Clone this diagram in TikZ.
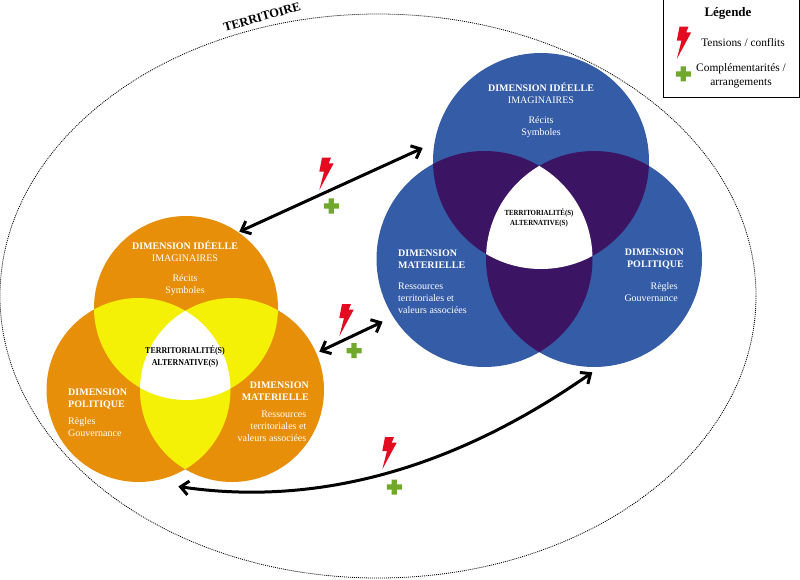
\documentclass[tikz,border=0pt]{standalone}
\usepackage{fontspec}
\setmainfont{Liberation Serif}
\usetikzlibrary{arrows.meta}
\definecolor{orangefill}{HTML}{E78F08}
\definecolor{yellowfill}{HTML}{F4F006}
\definecolor{bluefill}{HTML}{355CA6}
\definecolor{purplefill}{HTML}{3C1464}
\definecolor{boltred}{HTML}{E30B20}
\definecolor{plusgreen}{HTML}{6FA82A}
\tikzset{
  x=1pt,y=-1pt,
  vtext/.style={inner sep=0pt,text=white,font=\fontsize{10}{12}\selectfont},
  vtextc/.style={vtext,align=center},
  vtextl/.style={vtext,align=left},
  vtextr/.style={vtext,align=right},
  linkarrow/.style={line width=3pt,black,{Straight Barb[length=8pt,width=14pt,line width=3pt]}-{Straight Barb[length=8pt,width=14pt,line width=3pt]}},
  boltshape/.pic={\fill[boltred] (0,0)--(9,0)--(6.7,5.7)--(11.7,5.7)--(-2.7,32.3)--(2,14)--(-2.7,14)--cycle;},
  plusshape/.pic={\fill[plusgreen] (-2.6,-7.5)--(2.6,-7.5)--(2.6,-2.6)--(7.5,-2.6)--(7.5,2.6)--(2.6,2.6)--(2.6,7.5)--(-2.6,7.5)--(-2.6,2.6)--(-7.5,2.6)--(-7.5,-2.6)--(-2.6,-2.6)--cycle;},
  territory/.style={draw=black,line width=0.8pt,dash pattern=on 1pt off 1pt}
}
\newcommand{\venn}[8]{%
  \fill[#7] (#1,#2) circle (\vennr);
  \fill[#7] (#3,#4) circle (\vennr);
  \fill[#7] (#5,#6) circle (\vennr);
  \begin{scope}\clip (#1,#2) circle (\vennr);\fill[#8] (#3,#4) circle (\vennr);\fill[#8] (#5,#6) circle (\vennr);\end{scope}
  \begin{scope}\clip (#3,#4) circle (\vennr);\fill[#8] (#5,#6) circle (\vennr);\end{scope}
  \begin{scope}\clip (#1,#2) circle (\vennr);\clip (#3,#4) circle (\vennr);\fill[white] (#5,#6) circle (\vennr);\end{scope}
}
\newcommand{\narrowed}[1]{\scalebox{0.88}[1]{#1}}
\newlength{\vennr}
\begin{document}
\begin{tikzpicture}
\useasboundingbox (0,0) rectangle (800,580);
\fill[white] (0,0) rectangle (800,580);
\draw[territory] (378,296) ellipse (378 and 282);
\node[inner sep=0pt,rotate=16,font=\bfseries\fontsize{12.5}{14}\selectfont] (territoire) at (262,17) {TERRITOIRE};

\setlength{\vennr}{92pt}
\venn{186}{308}{138.5}{390}{232}{390}{orangefill}{yellowfill}
\setlength{\vennr}{108pt}
\venn{541}{161}{484.5}{259}{594}{259}{bluefill}{purplefill}

% orange texts
\node[vtextc] (oTopTitle) at (185,251) {\textbf{DIMENSION IDÉELLE}\\IMAGINAIRES};
\node[vtextc] (oTopBody) at (185,285) {Récits\\Symboles};
\node[vtextl,anchor=west] (oPolTitle) at (68,399) {\textbf{DIMENSION}\\\textbf{POLITIQUE}};
\node[vtextl,anchor=west] (oPolBody) at (68,427) {Règles\\Gouvernance};
\node[vtextr,anchor=east] (oMatTitle) at (309,391) {\textbf{DIMENSION}\\\textbf{MATERIELLE}};
\node[vtextr,anchor=east] (oMatBody) at (306.5,426) {Ressources\\territoriales et\\valeurs associées};
\node[inner sep=0pt,align=center,font=\bfseries\fontsize{9}{12}\selectfont] (oCentre) at (185,357) {\narrowed{TERRITORIALITÉ(S)}\\\narrowed{ALTERNATIVE(S)}};

% blue texts
\node[vtextc] (bTopTitle) at (541,93) {\textbf{DIMENSION IDÉELLE}\\IMAGINAIRES};
\node[vtextc] (bTopBody) at (541,127) {Récits\\Symboles};
\node[vtextl,anchor=west] (bMatTitle) at (398,259) {\textbf{DIMENSION}\\\textbf{MATERIELLE}};
\node[vtextl,anchor=west] (bMatBody) at (398,298) {Ressources\\territoriales et\\valeurs associées};
\node[vtextr,anchor=east] (bPolTitle) at (684,259) {\textbf{DIMENSION}\\\textbf{POLITIQUE}};
\node[vtextr,anchor=east] (bPolBody) at (678,292) {Règles\\Gouvernance};
\node[inner sep=0pt,align=center,font=\bfseries\fontsize{7.8}{10.2}\selectfont] (bCentre) at (539,218) {\narrowed{TERRITORIALITÉ(S)}\\\narrowed{ALTERNATIVE(S)}};

% connectors
\coordinate (a1) at (239.3,231.7);
\coordinate (a2) at (422.7,148);
\coordinate (b1) at (319.3,351.7);
\coordinate (b2) at (382.7,321.7);
\coordinate (c1) at (178.3,486.5);
\coordinate (c2) at (592.3,372.3);
\draw[linkarrow] (a1) -- (a2);
\draw[linkarrow] (b1) -- (b2);
\draw[linkarrow] (c1) .. controls (290,503) and (430,486) .. (c2);

\pic at (322,157.7) {boltshape};
\pic at (342,304) {boltshape};
\pic at (385,437) {boltshape};
\pic at (331.3,206) {plusshape};
\pic at (354,350.7) {plusshape};
\pic at (394.3,487) {plusshape};

% legend
\draw[black,line width=1pt,fill=white] (663.5,-2) rectangle (799.5,98);
\node[inner sep=0pt,font=\bfseries\fontsize{13}{15}\selectfont] (legTitle) at (728,13) {Légende};
\pic at (679.5,26.7) {boltshape};
\pic at (683.3,74) {plusshape};
\node[inner sep=0pt,font=\fontsize{11.4}{13}\selectfont] (legA) at (743,43) {Tensions / conflits};
\node[inner sep=0pt,align=center,font=\fontsize{11.4}{14}\selectfont] (legB) at (741,76) {Complémentarités /\\arrangements};
\end{tikzpicture}
\end{document}
